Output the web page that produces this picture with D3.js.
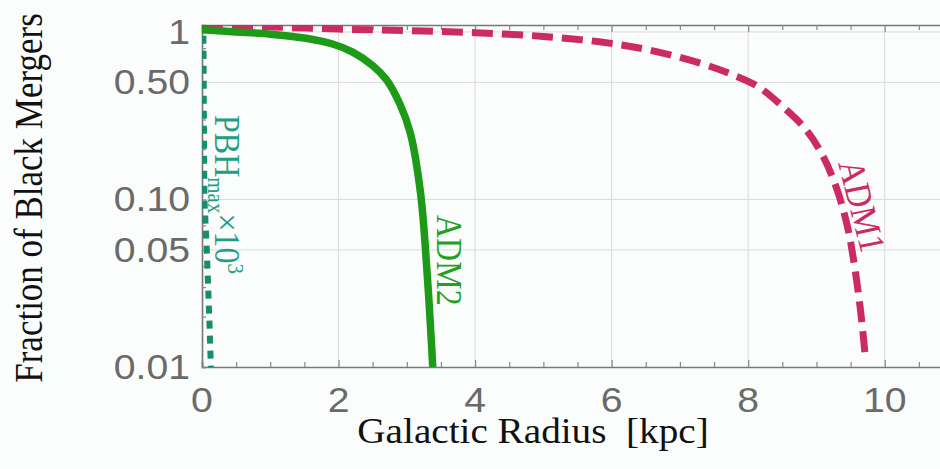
<!DOCTYPE html>
<html><head><meta charset="utf-8">
<script src="https://cdn.jsdelivr.net/npm/d3@7"></script>
<style>html,body{margin:0;padding:0;background:#fbfcfc;} svg{display:block;}</style>
</head><body><svg id="c" width="940" height="469"></svg>
<script>
// ---- data ----
const adm1X = [0, 1, 2, 3, 4, 5, 5.85, 6.55, 7.3, 7.75, 8.15, 8.5, 8.85, 9.1, 9.3, 9.45, 9.55, 9.65, 9.72];
const adm1Y = [1.09, 1.07, 1.04, 1.02, 0.99, 0.94, 0.87, 0.78, 0.65, 0.56, 0.47, 0.36, 0.26, 0.18, 0.115, 0.07, 0.042, 0.021, 0.011];
const adm2X = [0, 0.5, 1.0, 1.5, 1.9, 2.2, 2.5, 2.7, 2.9, 3.05, 3.2, 3.3, 3.38];
const adm2Y = [1.03, 1.0, 0.97, 0.92, 0.85, 0.76, 0.63, 0.52, 0.37, 0.25, 0.11, 0.035, 0.01];
const pbhX = [0.02, 0.025, 0.03, 0.035, 0.07, 0.09, 0.11, 0.13];
const pbhY = [0.95, 0.5, 0.2, 0.1, 0.05, 0.03, 0.018, 0.01];
const xTicks = [0, 2, 4, 6, 8, 10];
const xTickLabels = ["0", "2", "4", "6", "8", "10"];
const yTicks = [1, 0.5, 0.1, 0.05, 0.01];
const yTickLabels = ["1", "0.50", "0.10", "0.05", "0.01"];
const yMinor = [0.02,0.03,0.04,0.06,0.07,0.08,0.09,0.2,0.3,0.4,0.6,0.7,0.8,0.9];
const xTitle = "Galactic Radius\u00A0\u00A0[kpc]";
const yTitle = "Fraction of Black Mergers";

// ---- layout ----
const SX = 1.12; // horizontal stretch of text in the reference
const L = 202, R = 953, T = 25, B = 367;
const x = d3.scaleLinear().domain([0, 11]).range([L, R]);
const y = d3.scaleLog().domain([0.01, 1.1]).range([B, T]);
const svg = d3.select("#c");
svg.append("rect").attr("width", 940).attr("height", 469).attr("fill", "#fbfcfc");

svg.append("defs").append("clipPath").attr("id", "clip")
  .append("rect").attr("x", L).attr("y", T).attr("width", 940 - L).attr("height", B - T);

// grid
const grid = svg.append("g").attr("stroke", "#dadada").attr("stroke-width", 1);
xTicks.filter(d => d > 0).forEach(d => grid.append("line")
  .attr("x1", x(d)).attr("x2", x(d)).attr("y1", T).attr("y2", B));
yTicks.filter(d => d > 0.01).forEach(d => grid.append("line")
  .attr("x1", L).attr("x2", 940).attr("y1", y(d)).attr("y2", y(d)));

// axes (ticks inward)
const minorX = d3.range(0, 11.01, 0.5);
const axB = svg.append("g").attr("transform", `translate(0,${B})`)
  .call(d3.axisBottom(x).tickValues(minorX).tickSize(-5).tickFormat(""));
const axT = svg.append("g").attr("transform", `translate(0,${T})`)
  .call(d3.axisTop(x).tickValues(minorX).tickSize(-5).tickFormat(""));
const axL = svg.append("g").attr("transform", `translate(${L},0)`)
  .call(d3.axisLeft(y).tickValues(yMinor.concat(yTicks)).tickSize(-4).tickFormat(""));
[axB, axT, axL].forEach(a => {
  a.select(".domain").attr("stroke", "#777").attr("stroke-width", 1.6);
  a.selectAll(".tick line").attr("stroke", "#888").attr("stroke-width", 1.2);
});
axB.selectAll(".tick line").filter(d => d % 2 === 0).attr("y2", -7);
axT.selectAll(".tick line").filter(d => d % 2 === 0).attr("y2", 7);

// tick labels
const lab = svg.append("g").attr("font-family", "'Liberation Sans', Arial, sans-serif")
  .attr("font-size", 35).attr("fill", "#6a6a6a");
xTicks.forEach((d, i) => lab.append("text")
  .attr("transform", `translate(${x(d)},${412}) scale(${SX},1)`)
  .attr("text-anchor", "middle").text(xTickLabels[i]));
yTicks.forEach((d, i) => lab.append("text")
  .attr("transform", `translate(190,${y(d) + 12}) scale(${SX},1)`)
  .attr("text-anchor", "end").text(yTickLabels[i]));

// titles
const ttl = svg.append("g").attr("font-family", "'Liberation Serif', 'Times New Roman', serif")
  .attr("font-size", 35).attr("fill", "#111");
ttl.append("text").attr("transform", `translate(533,443) scale(${SX},1)`)
  .attr("text-anchor", "middle").text(xTitle);
ttl.append("text").attr("transform", `translate(42,198) scale(${SX},1) rotate(-90)`)
  .attr("text-anchor", "middle").text(yTitle);

// curves
const line = d3.line().x(d => x(d[0])).y(d => y(d[1])).curve(d3.curveCatmullRom.alpha(0.5));
const plot = svg.append("g").attr("clip-path", "url(#clip)");
plot.append("path").datum(d3.zip(adm1X, adm1Y)).attr("d", line)
  .attr("fill", "none").attr("stroke", "#cc2a62").attr("stroke-width", 7)
  .attr("stroke-dasharray", "21,9");
plot.append("path").datum(d3.zip(adm2X, adm2Y)).attr("d", line)
  .attr("fill", "none").attr("stroke", "#1c9a18").attr("stroke-width", 7.5);
plot.append("path").datum(d3.zip(pbhX, pbhY))
  .attr("d", d3.line().x(d => x(d[0])).y(d => y(d[1])))
  .attr("fill", "none").attr("stroke", "#188c6c").attr("stroke-width", 6)
  .attr("stroke-dasharray", "8,7");

// curve labels
const cl = svg.append("g").attr("font-family", "'Liberation Serif', 'Times New Roman', serif");
const pbh = cl.append("text").attr("transform", `translate(215,115) scale(${SX},1) rotate(90)`)
  .attr("fill", "#239e82").attr("font-size", 32);
pbh.append("tspan").text("PBH");
pbh.append("tspan").attr("font-size", 21).attr("dy", 6).text("max");
pbh.append("tspan").attr("dy", -6).text("\u00D710");
pbh.append("tspan").attr("font-size", 21).attr("dy", -12).text("3");
cl.append("text").attr("transform", `translate(437,215) scale(${SX},1) rotate(90)`)
  .attr("fill", "#24a020").attr("font-size", 32).text("ADM2");
cl.append("text").attr("transform", `translate(838,163) scale(${SX},1) rotate(77)`)
  .attr("fill", "#cc2a62").attr("font-size", 33).text("ADM1");
</script></body></html>
